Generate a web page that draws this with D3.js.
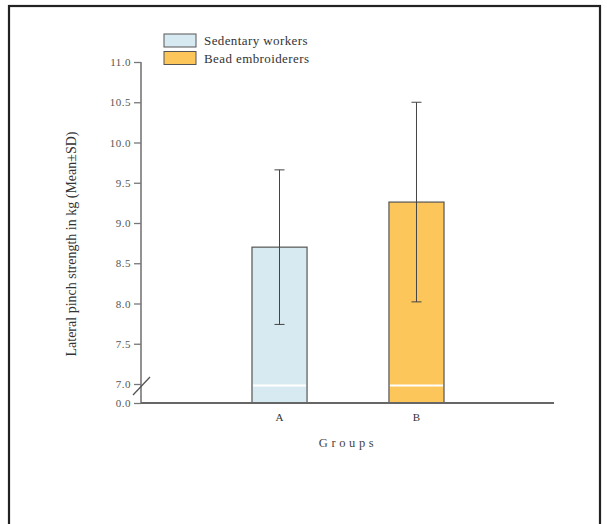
<!DOCTYPE html>
<html>
<head>
<meta charset="utf-8">
<script src="https://cdn.jsdelivr.net/npm/d3@7"></script>
<style>
  html, body { margin: 0; padding: 0; background: #fff; }
  svg { display: block; }
  text { font-family: "Liberation Serif", "DejaVu Serif", serif; }
</style>
</head>
<body>
<svg id="chart" width="607" height="524"></svg>
<script>
// ---- data ----
const groups = ["A", "B"];
const seriesNames = ["Sedentary workers", "Bead embroiderers"];
const means = [8.70, 9.26];
const sds = [0.96, 1.24];
const yTicks = [0.0, 7.0, 7.5, 8.0, 8.5, 9.0, 9.5, 10.0, 10.5, 11.0];
const colors = ["#d8eaf1", "#fcc65a"];

const svg = d3.select("#chart");

// frame
svg.append("rect").attr("x", 9).attr("y", 6).attr("width", 591).attr("height", 600)
  .attr("fill", "none").attr("stroke", "#222").attr("stroke-width", 2.2);

// scales (broken axis: 0 -> 7 compressed)
const y = d3.scaleLinear().domain([0, 7, 11]).range([403, 384, 62]);
const x = d3.scaleBand().domain(groups).range([183.5, 512.5])
  .paddingInner(0.598).paddingOuter(0.5);

const axisX = 141;

// y axis
const yAxis = d3.axisLeft(y).tickValues(yTicks).tickFormat(d3.format(".1f"))
  .tickSize(7).tickPadding(3);
const gy = svg.append("g").attr("transform", `translate(${axisX},0)`).call(yAxis);
gy.select(".domain").remove();
gy.selectAll(".tick line").attr("stroke", "#777").attr("stroke-width", 1.3);
gy.selectAll(".tick text").attr("fill", "#555").attr("font-size", 11)
  .attr("letter-spacing", "0.5px")
  .style("font-family", "'Liberation Serif', serif");
svg.append("line").attr("x1", axisX).attr("x2", axisX)
  .attr("y1", y(11)).attr("y2", y(0))
  .attr("stroke", "#777").attr("stroke-width", 1.6);

// bars
svg.selectAll("rect.bar").data(groups).join("rect").attr("class", "bar")
  .attr("x", d => x(d))
  .attr("width", x.bandwidth())
  .attr("y", (d, i) => y(means[i]))
  .attr("height", (d, i) => y(0) - y(means[i]))
  .attr("fill", (d, i) => colors[i])
  .attr("stroke", "#555").attr("stroke-width", 1.2);

// break lines across bars
svg.selectAll("line.brk").data(groups).join("line").attr("class", "brk")
  .attr("x1", d => x(d) + 1).attr("x2", d => x(d) + x.bandwidth() - 1)
  .attr("y1", y(7) + 1.5).attr("y2", y(7) + 1.5)
  .attr("stroke", "#fff").attr("stroke-width", 2);

// x axis line
svg.append("line").attr("x1", axisX).attr("x2", 554)
  .attr("y1", y(0)).attr("y2", y(0))
  .attr("stroke", "#666").attr("stroke-width", 2);

// axis break mark
svg.append("line").attr("x1", 133).attr("y1", 395).attr("x2", 150).attr("y2", 377)
  .attr("stroke", "#555").attr("stroke-width", 1.3);

// error bars
const eb = svg.selectAll("g.err").data(groups).join("g").attr("class", "err");
eb.append("line")
  .attr("x1", d => x(d) + x.bandwidth() / 2).attr("x2", d => x(d) + x.bandwidth() / 2)
  .attr("y1", (d, i) => y(means[i] + sds[i])).attr("y2", (d, i) => y(means[i] - sds[i]))
  .attr("stroke", "#444").attr("stroke-width", 1);
[1, -1].forEach(s => {
  eb.append("line")
    .attr("x1", d => x(d) + x.bandwidth() / 2 - 5).attr("x2", d => x(d) + x.bandwidth() / 2 + 5)
    .attr("y1", (d, i) => y(means[i] + s * sds[i])).attr("y2", (d, i) => y(means[i] + s * sds[i]))
    .attr("stroke", "#444").attr("stroke-width", 1);
});

// category labels
svg.selectAll("text.cat").data(groups).join("text").attr("class", "cat")
  .attr("x", d => x(d) + x.bandwidth() / 2).attr("y", 421)
  .attr("text-anchor", "middle").attr("font-size", 11).attr("fill", "#333")
  .text(d => d);

// axis titles
svg.append("text").attr("x", 348).attr("y", 447).attr("text-anchor", "middle")
  .attr("font-size", 12.5).attr("fill", "#444").attr("letter-spacing", "3.6px")
  .text("Groups");
svg.append("text").attr("transform", "translate(76,244) rotate(-90)")
  .attr("text-anchor", "middle").attr("font-size", 14).attr("fill", "#333")
  .text("Lateral pinch strength in kg (Mean±SD)");

// legend
const lg = svg.selectAll("g.leg").data(seriesNames).join("g").attr("class", "leg")
  .attr("transform", (d, i) => `translate(164,${34 + i * 17.5})`);
lg.append("rect").attr("width", 32).attr("height", 13)
  .attr("fill", (d, i) => colors[i]).attr("stroke", "#555").attr("stroke-width", 1);
lg.append("text").attr("x", 40).attr("y", 11).attr("font-size", 13).attr("fill", "#333")
  .attr("letter-spacing", "0.4px")
  .text(d => d);
</script>
</body>
</html>
